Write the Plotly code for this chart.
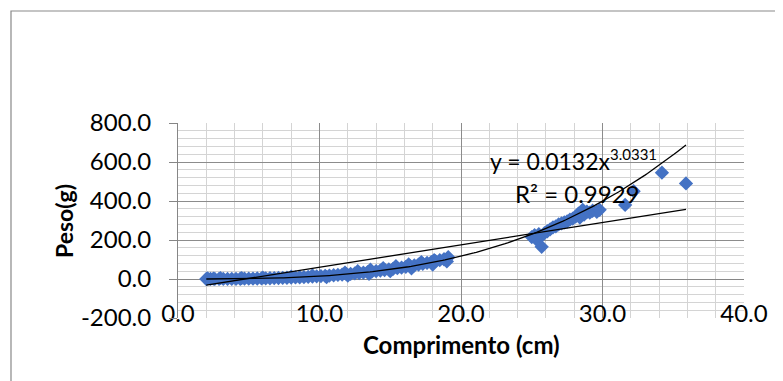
import plotly.graph_objects as go
import numpy as np

# Data
comprimento = [2.0, 2.1, 2.3, 2.5, 2.6, 2.9, 3.0, 3.2, 3.5, 3.8, 4.1, 4.4, 4.5, 4.7, 5.0, 5.3, 5.6, 5.9,
               6.0, 6.2, 6.5, 6.8, 7.1, 7.4, 7.7, 8.0, 8.0, 8.3, 8.6, 8.9, 9.2, 9.5, 9.5, 9.8, 10.1,
               10.4, 10.5, 10.7, 11.0, 11.3, 11.6, 11.8, 11.9, 12.0, 12.2, 12.5, 12.7, 12.8, 13.1, 13.4,
               13.5, 13.6, 13.7, 14.0, 14.3, 14.5, 14.6, 14.9, 15.0, 15.2, 15.4, 15.5, 15.8, 16.1, 16.3,
               16.4, 16.5, 16.7, 17.0, 17.2, 17.3, 17.6, 17.9, 18.0, 18.1, 18.2, 18.5, 18.8, 19.0, 19.1,
               25.0, 25.2, 25.3, 25.5, 25.6, 25.7, 25.9, 26.1, 26.3, 26.5, 26.7, 26.9, 27.1, 27.3, 27.5,
               27.7, 27.9, 28.1, 28.3, 28.4, 28.6, 28.7, 28.9, 29.1, 29.3, 29.6, 29.8,
               31.6, 32.2, 34.2, 35.9]
peso = [0.1, 3.0, 0.2, 2.0, 0.3, 0.4, 4.0, 0.5, 0.6, 0.8, 1.0, 1.2, 5.0, 1.5, 1.8, 2.1, 2.5, 2.9,
        7.0, 3.4, 3.9, 4.5, 5.1, 5.8, 6.5, 7.3, 12.0, 8.2, 9.1, 10.1, 11.2, 12.3, 18.0, 13.6, 14.9,
        16.2, 10.0, 17.8, 19.3, 21.0, 22.8, 33.0, 24.6, 18.0, 26.5, 28.6, 40.0, 30.7, 33.0, 35.3,
        27.0, 48.0, 37.8, 40.4, 43.1, 56.0, 46.0, 49.0, 40.0, 52.1, 66.0, 55.3, 58.7, 62.3, 75.0,
        66.0, 55.0, 69.8, 73.8, 87.0, 78.0, 82.3, 86.8, 74.0, 97.0, 91.5, 96.3, 101.3, 90.0, 112.0,
        215, 225, 205, 230, 215, 165, 235, 245, 255, 265, 270, 280, 285, 290, 295,
        305, 310, 320, 335, 315, 355, 330, 345, 340, 350, 345, 355,
        380, 450, 545, 490]

# Trendline coefficients (power shown on chart, linear)
pow_a = 0.0132
pow_b = 3.0331
lin_slope = 11.45
lin_intercept = -54.0
r2_text = "0.9929"

x_ticks = [0, 10, 20, 30, 40]
x_labels = ["0.0", "10.0", "20.0", "30.0", "40.0"]
y_ticks = [-200, 0, 200, 400, 600, 800]
y_labels = ["-200.0", "0.0", "200.0", "400.0", "600.0", "800.0"]

xmin, xmax = min(comprimento), max(comprimento)
xs = np.linspace(xmin, xmax, 200)
pow_y = pow_a * xs ** pow_b
lin_x = np.array([xmin, xmax])
lin_y = lin_slope * lin_x + lin_intercept

FONT = "Lato, 'Open Sans', sans-serif"
MAJOR = "#8c8c8c"
MINOR = "#d4d4d4"

# page body has an 8px margin: figure starts at (8, 8)
PL, PT, PW, PH = 178, 123, 566, 195  # plot area in window pixels
W, H = 775, 373
ml, mt = PL - 8, PT - 8
mr = W - ml - PW
mb = H - mt - PH


def px(p):
    return (p - PL) / PW


def py(q):
    return (PT + PH - q) / PH


fig = go.Figure()
fig.add_trace(go.Scatter(x=comprimento, y=peso, mode="markers",
                         marker=dict(symbol="diamond", size=11, color="#4472C4",
                                     line=dict(width=0)),
                         showlegend=False, hoverinfo="x+y"))
fig.add_trace(go.Scatter(x=xs, y=pow_y, mode="lines",
                         line=dict(color="black", width=1.3), showlegend=False))
fig.add_trace(go.Scatter(x=lin_x, y=lin_y, mode="lines",
                         line=dict(color="black", width=1.3), showlegend=False))

fig.update_layout(
    width=W, height=H,
    margin=dict(l=ml, r=mr, t=mt, b=mb),
    paper_bgcolor="white", plot_bgcolor="white",
    font=dict(family=FONT, size=24, color="black"),
    xaxis=dict(range=[0, 40], tickvals=x_ticks, ticktext=x_labels,
               showgrid=True, gridcolor=MAJOR, gridwidth=1,
               minor=dict(dtick=2, showgrid=True, gridcolor=MINOR, gridwidth=1, tick0=0),
               zeroline=False, showline=False, ticks="",
               ticklabelstandoff=-21, tickfont=dict(size=24)),
    yaxis=dict(range=[-200, 800], tickvals=y_ticks, ticktext=y_labels,
               showgrid=True, gridcolor=MAJOR, gridwidth=1,
               minor=dict(dtick=40, showgrid=True, gridcolor=MINOR, gridwidth=1, tick0=0),
               zeroline=True, zerolinecolor="#868686", zerolinewidth=1,
               showline=True, linecolor="#868686", linewidth=1,
               ticks="outside", ticklen=8, tickcolor="#868686",
               ticklabelstandoff=13, tickfont=dict(size=24)),
    shapes=[dict(type="rect", xref="paper", yref="paper",
                 x0=px(11), x1=px(900), y0=py(500), y1=py(11),
                 line=dict(color="#898989", width=1.2), fillcolor="rgba(0,0,0,0)",
                 layer="below")],
    annotations=[
        dict(text="<b>Peso(g)</b>", xref="paper", yref="paper", x=px(64), y=py(221),
             textangle=-90, showarrow=False, font=dict(size=23), xanchor="center", yanchor="middle"),
        dict(text="<b>Comprimento (cm)</b>", xref="paper", yref="paper", x=0.5, y=py(344),
             showarrow=False, font=dict(size=24), xanchor="center", yanchor="middle"),
        dict(text=f"y = {pow_a}x<sup><span style='font-size:15px'>{pow_b}</span></sup>",
             xref="paper", yref="paper",
             x=px(488), y=py(160), xanchor="left", yanchor="middle",
             showarrow=False, font=dict(size=23)),
        dict(text=f"R² = {r2_text}", xref="paper", yref="paper",
             x=px(513), y=py(193), xanchor="left", yanchor="middle",
             showarrow=False, font=dict(size=24)),
    ],
)

fig.write_html("out.html")
